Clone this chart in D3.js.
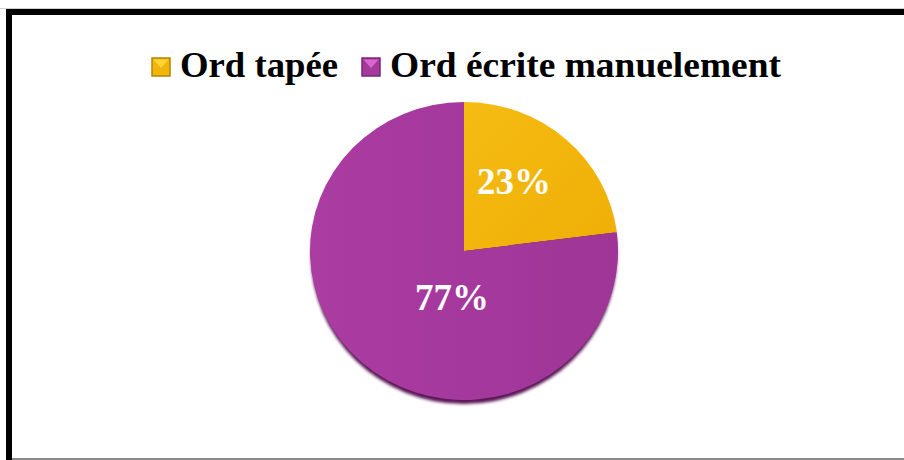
<!DOCTYPE html>
<html>
<head>
<meta charset="utf-8">
<script src="https://cdn.jsdelivr.net/npm/d3@7"></script>
<style>
  body { margin: 0; background: white; }
</style>
</head>
<body>
<div id="chart"></div>
<script>
(function() {
    'use strict';

    // Data
    const categories = ["Ord tapée", "Ord écrite manuelement"];
    const values = [23, 77];
    const labels = ["23%", "77%"];

    const colors = ["#F2B50B", "#A53A9D"];

    const width = 904;
    const height = 460;

    const cx = 464;
    const cy = 251;
    const radius = 149;
    const stretchX = 154 / 149; // pie is a touch wider than tall

    const svg = d3.select("#chart")
        .append("svg")
        .attr("width", width)
        .attr("height", height);

    const defs = svg.append("defs");

    // gradients for the slices
    const gYellow = defs.append("linearGradient")
        .attr("id", "gY").attr("x1", "0").attr("y1", "0").attr("x2", "1").attr("y2", "1");
    gYellow.append("stop").attr("offset", "0%").attr("stop-color", "#F5BC12");
    gYellow.append("stop").attr("offset", "100%").attr("stop-color", "#EFAE06");

    const gPurple = defs.append("linearGradient")
        .attr("id", "gP").attr("x1", "0").attr("y1", "0").attr("x2", "1").attr("y2", "0");
    gPurple.append("stop").attr("offset", "0%").attr("stop-color", "#AB3CA2");
    gPurple.append("stop").attr("offset", "100%").attr("stop-color", "#9F3597");

    const blur = defs.append("filter").attr("id", "blur")
        .attr("x", "-10%").attr("y", "-10%").attr("width", "120%").attr("height", "120%");
    blur.append("feGaussianBlur").attr("stdDeviation", 1.5);

    const fills = ["url(#gY)", "url(#gP)"];

    // frame
    svg.append("rect")
        .attr("x", 0).attr("y", 8).attr("width", width).attr("height", 1)
        .attr("fill", "#d0d0d0");
    svg.append("rect")
        .attr("x", 9).attr("y", 12)
        .attr("width", width + 20).attr("height", height + 20)
        .attr("fill", "none")
        .attr("stroke", "black")
        .attr("stroke-width", 6);
    svg.append("rect")
        .attr("x", 12).attr("y", 458).attr("width", width).attr("height", 2)
        .attr("fill", "#8a8a8a");

    // pie
    const pie = d3.pie().sort(null).value(d => d)(values);
    const arc = d3.arc().innerRadius(0).outerRadius(radius);

    const g = svg.append("g")
        .attr("transform", `translate(${cx}, ${cy}) scale(${stretchX}, 1)`);

    // dark rim under the pie
    g.append("ellipse")
        .attr("cx", 0).attr("cy", 5)
        .attr("rx", radius - 1).attr("ry", radius - 1)
        .attr("fill", "#5a1854")
        .attr("filter", "url(#blur)");

    g.selectAll("path.slice")
        .data(pie)
        .join("path")
        .attr("class", "slice")
        .attr("d", arc)
        .attr("fill", (d, i) => fills[i]);

    // value labels
    const labelPos = [[50, -57], [-12, 59]];
    svg.append("g")
        .attr("transform", `translate(${cx}, ${cy})`)
        .selectAll("text")
        .data(pie)
        .join("text")
        .attr("x", (d, i) => labelPos[i][0])
        .attr("y", (d, i) => labelPos[i][1])
        .attr("text-anchor", "middle")
        .attr("font-family", "'Liberation Serif', 'Times New Roman', serif")
        .attr("font-weight", "bold")
        .attr("font-size", "37px")
        .attr("fill", "white")
        .text((d, i) => labels[i]);

    // legend
    const legendX = [152, 362];
    const legendTextLen = [158, 391];
    const legend = svg.append("g");
    const item = legend.selectAll("g")
        .data(categories)
        .join("g")
        .attr("transform", (d, i) => `translate(${legendX[i]}, 58)`);

    const markerLight = ["#FFD633", "#D868CF"];
    const markerDark = ["#B58500", "#7C2775"];

    item.append("rect")
        .attr("width", 18).attr("height", 18)
        .attr("fill", (d, i) => colors[i])
        .attr("stroke", (d, i) => markerDark[i])
        .attr("stroke-width", 1.5);
    item.append("path")
        .attr("d", "M1.5,1.5 L16.5,1.5 L9,10 Z")
        .attr("fill", (d, i) => markerLight[i]);

    item.append("text")
        .attr("x", 28)
        .attr("y", 19)
        .attr("font-family", "'Liberation Serif', 'Times New Roman', serif")
        .attr("font-weight", "bold")
        .attr("font-size", "36px")
        .attr("fill", "black")
        .attr("textLength", (d, i) => legendTextLen[i])
        .attr("lengthAdjust", "spacingAndGlyphs")
        .text(d => d);

})();
</script>
</body>
</html>
